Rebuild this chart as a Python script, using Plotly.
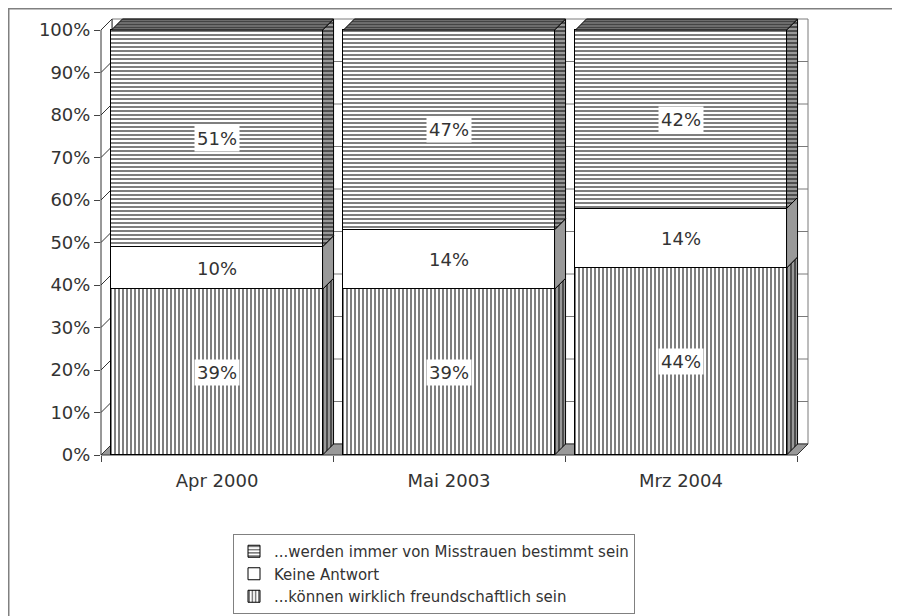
import plotly.graph_objects as go

# ---------------- data ----------------
categories = ["Apr 2000", "Mai 2003", "Mrz 2004"]
koennen = [39, 39, 44]          # ...können wirklich freundschaftlich sein
keine_antwort = [10, 14, 14]    # Keine Antwort
misstrauen = [51, 47, 42]       # ...werden immer von Misstrauen bestimmt sein
y_ticks = [0, 10, 20, 30, 40, 50, 60, 70, 80, 90, 100]
series_names = [
    "...können wirklich freundschaftlich sein",
    "Keine Antwort",
    "...werden immer von Misstrauen bestimmt sein",
]

# ---------------- layout geometry ----------------
W, H = 900, 616
OFF = 8  # page body margin offset
ML, MT = 101 - OFF, 17 - OFF
plot_w, plot_h = 709, 438
MR = W - ML - plot_w
MB = H - MT - plot_h
cat_px = 232.0
unit_px = 4.25
X0 = -0.5
X1 = X0 + plot_w / cat_px
Y1 = plot_h / unit_px
DEPTH = 11
DX = DEPTH / cat_px
DY = DEPTH / unit_px
BAR_W = 0.91

FONT = "DejaVu Sans"
TXT = "#333333"
SIDE = "#999999"
GRID = "#7a7a7a"
EDGE = "#333333"


def px(x):
    return (x - X0) / (X1 - X0)


def py(y):
    return y / Y1


def path(points):
    return "M " + " L ".join(f"{px(x):.5f},{py(y):.5f}" for x, y in points) + " Z"


def fig_x(X):
    return (X - ML) / plot_w


def fig_y(Y):
    return (H - MB - Y) / plot_h


xs = list(range(len(categories)))
series = [koennen, keine_antwort, misstrauen]
patterns = [
    dict(shape="|", fgcolor="black", bgcolor="white", size=4, solidity=0.5),
    dict(shape=""),
    dict(shape="-", fgcolor="black", bgcolor="white", size=4, solidity=0.5),
]
side_patterns = [
    dict(shape="|", fgcolor="black", bgcolor=SIDE, size=4, solidity=0.5),
    None,
    dict(shape="-", fgcolor="black", bgcolor=SIDE, size=4, solidity=0.5),
]

fig = go.Figure()

for vals, name, pat in zip(series, series_names, patterns):
    fig.add_trace(go.Bar(
        x=xs, y=vals, name=name, width=BAR_W,
        marker=dict(color="white", pattern=pat, line=dict(color="black", width=1)),
        hoverinfo="skip",
    ))

# 3D side and top faces derived from the stacked values
annotations = []
for i, cx in enumerate(xs):
    xl = cx - BAR_W / 2
    xr = cx + BAR_W / 2
    base = 0
    for s, vals in enumerate(series):
        v = vals[i]
        y0, y1 = base, base + v
        sx = [xr, xr + DX, xr + DX, xr, xr]
        sy = [y0, y0 + DY, y1 + DY, y1, y0]
        kw = dict(fillcolor=SIDE)
        if side_patterns[s] is not None:
            kw["fillpattern"] = side_patterns[s]
        fig.add_trace(go.Scatter(
            x=sx, y=sy, mode="lines", fill="toself",
            line=dict(color="black", width=1), showlegend=False,
            hoverinfo="skip", **kw,
        ))
        annotations.append(dict(
            x=cx, y=base + v / 2, xref="x", yref="y", text=f"{v}%",
            showarrow=False, bgcolor="white", borderpad=2,
            font=dict(family=FONT, size=18, color=TXT),
        ))
        base = y1
    # top face
    tx = [xl, xl + DX, xr + DX, xr, xl]
    ty = [base, base + DY, base + DY, base, base]
    fig.add_trace(go.Scatter(
        x=tx, y=ty, mode="lines", fill="toself",
        fillcolor="#555555",
        fillpattern=dict(shape="-", fgcolor="black", bgcolor="#888888", size=3, solidity=0.6),
        line=dict(color="black", width=1), showlegend=False, hoverinfo="skip",
    ))

# ---------------- walls / floor (decoration) ----------------
shapes = []
# outer frame (extends beyond the right/bottom edge as in the reference)
shapes.append(dict(type="rect", xref="paper", yref="paper",
                   x0=fig_x(0.75), x1=fig_x(W + 10), y0=fig_y(H + 10), y1=fig_y(0.75),
                   line=dict(color="#808080", width=1.5), layer="below"))
# back wall
shapes.append(dict(type="path", xref="paper", yref="paper",
                   path=path([(X0 + DX, DY), (X0 + DX, 100 + DY), (X0 + 3 + DX, 100 + DY), (X0 + 3 + DX, DY)]),
                   fillcolor="white", line=dict(color=GRID, width=1), layer="below"))
for t in y_ticks[1:-1]:
    shapes.append(dict(type="line", xref="paper", yref="paper",
                       x0=px(X0 + DX), x1=px(X0 + 3 + DX), y0=py(t + DY), y1=py(t + DY),
                       line=dict(color=GRID, width=1), layer="below"))
# left wall
shapes.append(dict(type="path", xref="paper", yref="paper",
                   path=path([(X0, 0), (X0, 100), (X0 + DX, 100 + DY), (X0 + DX, DY)]),
                   fillcolor="white", line=dict(color=EDGE, width=1), layer="below"))
for t in y_ticks:
    shapes.append(dict(type="line", xref="paper", yref="paper",
                       x0=px(X0), x1=px(X0 + DX), y0=py(t), y1=py(t + DY),
                       line=dict(color=EDGE, width=1), layer="below"))
# floor
shapes.append(dict(type="path", xref="paper", yref="paper",
                   path=path([(X0, 0), (X0 + DX, DY), (X0 + 3 + DX, DY), (X0 + 3, 0)]),
                   fillcolor=SIDE, line=dict(color=EDGE, width=1), layer="below"))

fig.update_layout(
    width=W, height=H,
    margin=dict(l=ML, r=MR, t=MT, b=MB, pad=0, autoexpand=False),
    paper_bgcolor="white", plot_bgcolor="rgba(0,0,0,0)",
    barmode="stack", bargap=0,
    font=dict(family=FONT, size=18, color=TXT),
    showlegend=True,
    legend=dict(
        traceorder="reversed", xref="container", yref="container",
        x=(233 - OFF) / W, y=1 - (534 - OFF) / H, xanchor="left", yanchor="top",
        bordercolor="#808080", borderwidth=1, bgcolor="white",
        font=dict(family=FONT, size=15, color=TXT), itemwidth=30,
        tracegroupgap=0,
    ),
    xaxis=dict(
        range=[X0, X1], tickvals=xs, ticktext=categories, ticks="",
        showgrid=False, zeroline=False, showline=False, automargin=False,
        ticklabelstandoff=13, tickangle=0,
        tickfont=dict(family=FONT, size=18, color=TXT),
        minor=dict(tickvals=[-0.5, 0.5, 1.5, 2.5], ticks="outside", ticklen=6,
                   tickcolor="#444444", showgrid=False),
        fixedrange=True,
    ),
    yaxis=dict(
        range=[0, Y1], tickvals=y_ticks, ticktext=[f"{t}%" for t in y_ticks],
        ticks="outside", ticklen=6, tickcolor="#444444", automargin=False,
        tickfont=dict(family=FONT, size=18, color=TXT),
        showgrid=False, zeroline=False, showline=False, fixedrange=True,
    ),
    shapes=shapes,
    annotations=annotations,
)

fig.write_html("out.html")
